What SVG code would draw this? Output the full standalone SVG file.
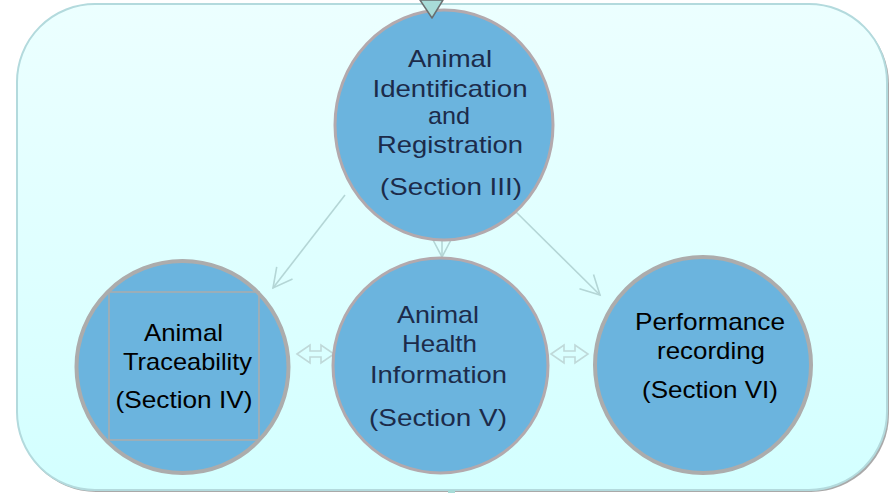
<svg xmlns="http://www.w3.org/2000/svg" width="889" height="493" viewBox="0 0 889 493">
<defs>
<linearGradient id="bg" x1="0" y1="0" x2="0" y2="1">
<stop offset="0" stop-color="#ecffff"/>
<stop offset="1" stop-color="#d3ffff"/>
</linearGradient>
<marker id="chev" markerUnits="userSpaceOnUse" markerWidth="24" markerHeight="24" viewBox="-20 -12 24 24" refX="0" refY="0" orient="auto">
<polyline points="-19,-10 0,0 -19,10" fill="none" stroke="#b4d6d6" stroke-width="1.6"/>
</marker>
</defs>
<style>
.node{fill:#6bb4de;}
.n1{stroke:#b3a9ad;stroke-width:3;}
.n2{stroke:#acacac;stroke-width:4;}
.lbl{font-family:"Liberation Sans",Arial,sans-serif;font-size:24px;text-anchor:middle;}
.dark{fill:#1c2b4a;}
.blk{fill:#000;}
.conn{stroke:#b4d6d6;stroke-width:1.6;fill:none;}
.dbl{stroke:#bfd9d9;stroke-width:1.6;fill:none;}
</style>
<rect x="18" y="6" width="871" height="486" rx="78" ry="78" fill="#a9a9a9"/>
<rect x="17" y="4" width="870" height="486" rx="78" ry="78" fill="url(#bg)" stroke="#b3dadd" stroke-width="2"/>
<rect x="448" y="490" width="7" height="3" fill="#a8dcd8"/>

<g id="connectors">
<line class="conn" x1="345" y1="195" x2="273" y2="288" marker-end="url(#chev)"/>
<line class="conn" x1="510" y1="206" x2="600" y2="295" marker-end="url(#chev)"/>
<line class="conn" x1="442" y1="230" x2="442" y2="257" marker-end="url(#chev)"/>
<polygon class="dbl" points="297,354 310,345 310,351 321,351 321,345 334,354 321,363 321,357 310,357 310,363"/>
<polygon class="dbl" points="551,354 564,345 564,351 575,351 575,345 588,354 575,363 575,357 564,357 564,363"/>
</g>

<g id="node-identification">
<ellipse class="node n1" cx="444" cy="125" rx="109" ry="115"/>
<text class="lbl dark" x="450" y="67" textLength="84" lengthAdjust="spacingAndGlyphs">Animal</text>
<text class="lbl dark" x="450" y="97" textLength="155" lengthAdjust="spacingAndGlyphs">Identification</text>
<text class="lbl dark" x="449" y="124" textLength="42" lengthAdjust="spacingAndGlyphs">and</text>
<text class="lbl dark" x="450" y="153" textLength="146" lengthAdjust="spacingAndGlyphs">Registration</text>
<text class="lbl dark" x="451" y="195" textLength="142" lengthAdjust="spacingAndGlyphs">(Section III)</text>
</g>

<g id="node-traceability">
<circle class="node n2" cx="182.5" cy="367" r="106"/>
<rect x="109" y="292" width="150" height="148" fill="none" stroke="#acacac" stroke-width="1.5"/>
<text class="lbl blk" x="183.5" y="341" textLength="79" lengthAdjust="spacingAndGlyphs">Animal</text>
<text class="lbl blk" x="187.5" y="370" textLength="129" lengthAdjust="spacingAndGlyphs">Traceability</text>
<text class="lbl blk" x="184" y="408" textLength="137" lengthAdjust="spacingAndGlyphs">(Section IV)</text>
</g>

<g id="node-health">
<circle class="node n1" cx="440.5" cy="365.5" r="107.5"/>
<text class="lbl dark" x="438" y="323" textLength="82" lengthAdjust="spacingAndGlyphs">Animal</text>
<text class="lbl dark" x="439.5" y="352" textLength="75" lengthAdjust="spacingAndGlyphs">Health</text>
<text class="lbl dark" x="438.5" y="383" textLength="137" lengthAdjust="spacingAndGlyphs">Information</text>
<text class="lbl dark" x="438" y="426" textLength="138" lengthAdjust="spacingAndGlyphs">(Section V)</text>
</g>

<g id="node-performance">
<circle class="node n2" cx="703" cy="365" r="108"/>
<text class="lbl blk" x="710" y="330" textLength="150" lengthAdjust="spacingAndGlyphs">Performance</text>
<text class="lbl blk" x="711" y="359" textLength="108" lengthAdjust="spacingAndGlyphs">recording</text>
<text class="lbl blk" x="710" y="398" textLength="136" lengthAdjust="spacingAndGlyphs">(Section VI)</text>
</g>

<polygon points="420,0 443,0 432,18" fill="#a8dcd8" stroke="#6a6f70" stroke-width="1.5" stroke-linejoin="round"/>
</svg>
